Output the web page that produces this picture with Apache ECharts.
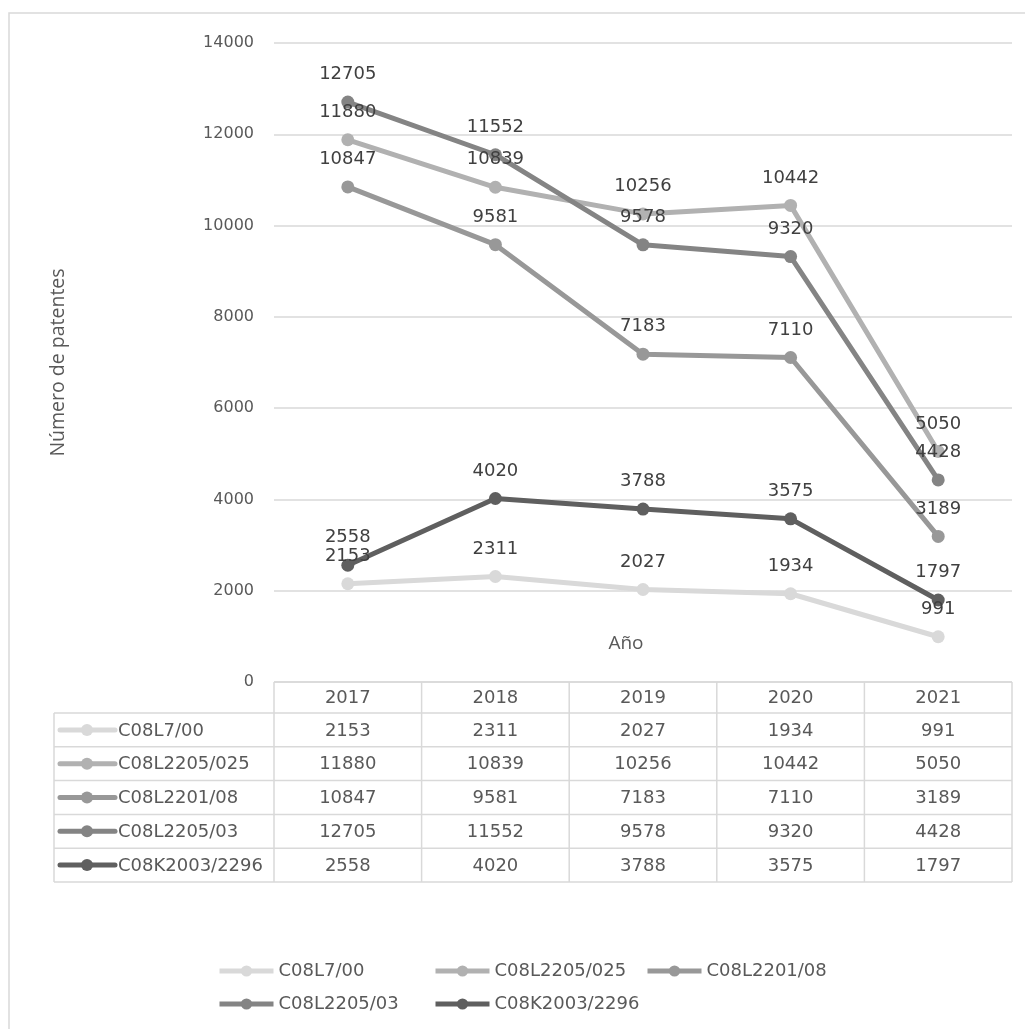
<!DOCTYPE html>
<html>
<head>
<meta charset="utf-8">
<script src="https://cdn.jsdelivr.net/npm/echarts@6/dist/echarts.min.js"></script>
<style>
  html, body { margin: 0; padding: 0; background: #ffffff; }
  #chart { width: 1025px; height: 1029px; }
</style>
</head>
<body>
<div id="chart"></div>
<script>
// Years on the category axis (also the header row of the data table)
const years = ['2017', '2018', '2019', '2020', '2021'];

// Patent classification codes, one line per code
const codes = ['C08L7/00', 'C08L2205/025', 'C08L2201/08', 'C08L2205/03', 'C08K2003/2296'];

// Number of patents per year for each code
const c08l7_00 = [2153, 2311, 2027, 1934, 991];
const c08l2205_025 = [11880, 10839, 10256, 10442, 5050];
const c08l2201_08 = [10847, 9581, 7183, 7110, 3189];
const c08l2205_03 = [12705, 11552, 9578, 9320, 4428];
const c08k2003_2296 = [2558, 4020, 3788, 3575, 1797];

const seriesValues = [c08l7_00, c08l2205_025, c08l2201_08, c08l2205_03, c08k2003_2296];
const colors = ['#d9d9d9', '#b1b1b1', '#989898', '#848484', '#5f5f5f'];

// Value axis range
const yMin = 0, yMax = 14000, yStep = 2000;

const FONT = '"DejaVu Sans", sans-serif';
const TITLE_FONT = '"Open Sans", "Noto Sans", sans-serif';
const TEXT = '#595959';
const LINE = '#d9d9d9';

const chart = echarts.init(document.getElementById('chart'), null, { renderer: 'canvas' });

const series = codes.map((name, i) => ({
  name: name,
  type: 'line',
  data: seriesValues[i],
  color: colors[i],
  symbol: 'circle',
  symbolSize: 13,
  lineStyle: { width: 5, color: colors[i] },
  itemStyle: { color: colors[i] },
  label: {
    show: true,
    position: 'top',
    distance: 12,
    color: '#404040',
    fontFamily: FONT,
    fontSize: 18
  },
  emphasis: { disabled: true },
  animation: false
}));

// Legend laid out as a grid: three columns, entries fill rows left to right
const legendCols = 3;
const legendColLeft = [212, 428, 640];
const legends = legendColLeft.map((x, col) => ({
  data: codes.filter((_, i) => i % legendCols === col),
  orient: 'vertical',
  left: x,
  top: 957,
  itemWidth: 54,
  itemHeight: 14,
  itemGap: 15,
  lineStyle: { width: 5 },
  textStyle: { fontFamily: FONT, fontSize: 18, color: TEXT },
  selectedMode: false
}));

chart.setOption({
  animation: false,
  grid: { left: 274, top: 43, width: 738, height: 639, containLabel: false },
  xAxis: {
    type: 'category',
    data: years,
    boundaryGap: true,
    axisLine: { show: false },
    axisTick: { show: false },
    axisLabel: { show: false },
    splitLine: { show: false }
  },
  yAxis: {
    type: 'value',
    min: yMin,
    max: yMax,
    interval: yStep,
    name: 'Número de patentes',
    nameLocation: 'middle',
    nameGap: 206,
    nameRotate: 90,
    nameTextStyle: { fontFamily: TITLE_FONT, fontSize: 19.5, color: TEXT },
    axisLine: { show: false },
    axisTick: { show: false },
    axisLabel: {
      margin: 20, fontFamily: FONT, fontSize: 16, color: TEXT,
      formatter: (v) => String(v)
    },
    splitLine: {
      show: true,
      lineStyle: { color: LINE, width: 1.5 }
    }
  },
  legend: legends,
  series: series
});

// Data table below the plot: header row with the years, one row per code
function drawTable() {
  const c0 = chart.convertToPixel({ xAxisIndex: 0 }, years[0]);
  const c1 = chart.convertToPixel({ xAxisIndex: 0 }, years[1]);
  const band = c1 - c0;
  const left = c0 - band / 2;
  const right = left + band * years.length;
  const top = chart.convertToPixel({ yAxisIndex: 0 }, yMin);
  const headerH = 31;
  const rowH = 33.8;
  const labelLeft = 54;
  const bodyTop = top + headerH;
  const bottom = bodyTop + rowH * codes.length;

  const els = [];
  const line = (x1, y1, x2, y2) => els.push({
    type: 'line', silent: true,
    shape: { x1, y1, x2, y2 },
    style: { stroke: LINE, lineWidth: 1.5 }
  });
  const text = (x, y, str, align) => els.push({
    type: 'text', silent: true,
    x: x, y: y,
    style: { text: str, fill: TEXT, font: '18px ' + FONT, align: align || 'center', verticalAlign: 'middle' }
  });

  // horizontal rules
  line(left, top, right, top);
  for (let r = 0; r <= codes.length; r++) {
    const y = bodyTop + r * rowH;
    line(labelLeft, y, right, y);
  }
  // vertical rules
  line(labelLeft, bodyTop, labelLeft, bottom);
  for (let c = 0; c <= years.length; c++) {
    const x = left + c * band;
    line(x, top, x, bottom);
  }
  // header
  years.forEach((yr, c) => text(left + band * (c + 0.5), top + headerH / 2 + 1, yr));
  // rows
  codes.forEach((code, r) => {
    const yc = bodyTop + rowH * (r + 0.5);
    // legend key: line with a dot
    els.push({
      type: 'line', silent: true,
      shape: { x1: labelLeft + 6, y1: yc, x2: labelLeft + 61, y2: yc },
      style: { stroke: colors[r], lineWidth: 5, lineCap: 'round' }
    });
    els.push({
      type: 'circle', silent: true,
      shape: { cx: labelLeft + 33, cy: yc, r: 6 },
      style: { fill: colors[r] }
    });
    text(labelLeft + 64, yc + 1, code, 'left');
    seriesValues[r].forEach((v, c) => text(left + band * (c + 0.5), yc + 1, String(v)));
  });

  // category axis title sitting just above the table
  els.push({
    type: 'text', silent: true,
    x: 626, y: 644,
    style: { text: 'Año', fill: TEXT, font: '19px ' + TITLE_FONT, align: 'center', verticalAlign: 'middle' }
  });

  // chart frame
  els.push({
    type: 'rect', silent: true, z: -1,
    shape: { x: 9, y: 13, width: 1040, height: 1040 },
    style: { fill: 'none', stroke: LINE, lineWidth: 1.5 }
  });

  chart.setOption({ graphic: els });
}
drawTable();
</script>
</body>
</html>
